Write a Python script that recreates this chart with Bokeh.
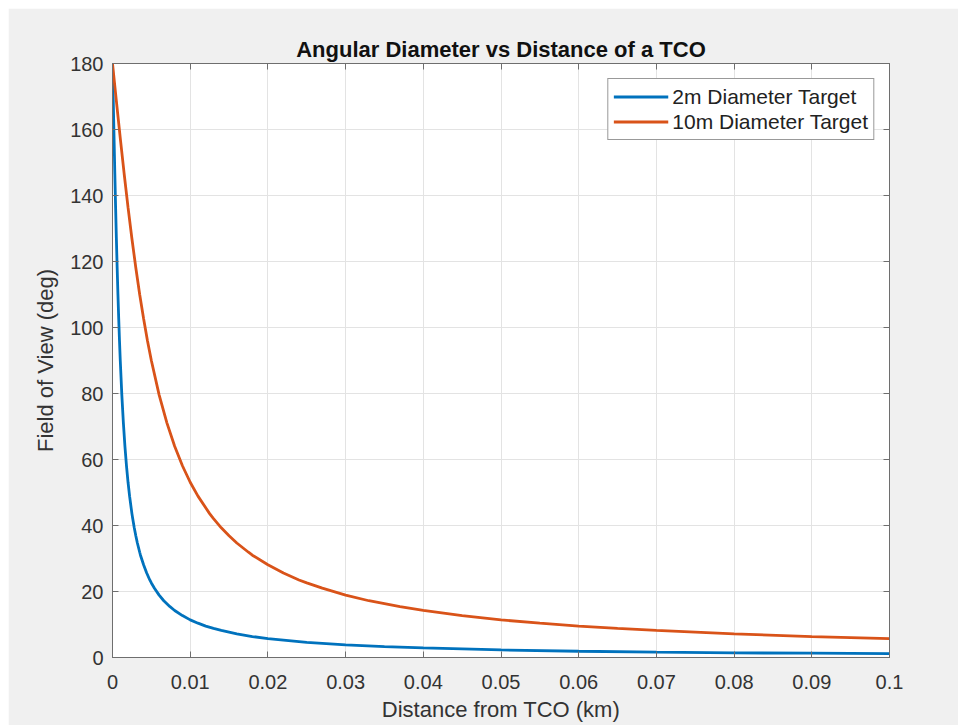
from bokeh.plotting import figure
from bokeh.models import LinearAxis, FixedTicker, Legend, LegendItem, Spacer
from bokeh.layouts import column, row
from bokeh.embed import file_html
from bokeh.resources import INLINE

# ---- data ----
dist_2m = [0, 0.00005, 0.0001, 0.00015, 0.0002, 0.0003, 0.0004, 0.0005, 0.0006, 0.0007,
           0.0008, 0.0009, 0.001, 0.0012, 0.0014, 0.0016, 0.0018, 0.002, 0.0022, 0.0025,
           0.0026, 0.0028, 0.003, 0.0032, 0.0035, 0.0036, 0.004, 0.0044, 0.0048, 0.005,
           0.0054, 0.006, 0.0066, 0.007, 0.0074, 0.008, 0.009, 0.01, 0.011, 0.012, 0.013,
           0.014, 0.016, 0.018, 0.02, 0.025, 0.03, 0.035, 0.04, 0.05, 0.06, 0.07, 0.08,
           0.09, 0.1]
fov_2m = [180, 174.3, 168.6, 163.0, 157.4, 146.6, 136.4, 126.9, 118.1, 110.0,
          102.7, 96.0, 90.0, 79.6, 71.1, 64.0, 58.1, 53.1, 48.9, 43.6,
          42.1, 39.3, 36.9, 34.7, 31.9, 31.0, 28.1, 25.6, 23.5, 22.6,
          21.0, 18.9, 17.2, 16.3, 15.4, 14.25, 12.7, 11.4, 10.4, 9.5, 8.8,
          8.2, 7.15, 6.35, 5.7, 4.6, 3.8, 3.3, 2.9, 2.3, 1.9, 1.6, 1.4,
          1.3, 1.15]

dist_10m = [0, 0.00025, 0.0005, 0.00075, 0.001, 0.0015, 0.002, 0.0025, 0.003, 0.0035,
            0.004, 0.0045, 0.005, 0.006, 0.007, 0.008, 0.009, 0.01, 0.011, 0.0125,
            0.013, 0.014, 0.015, 0.016, 0.0175, 0.018, 0.02, 0.022, 0.024, 0.025,
            0.027, 0.03, 0.033, 0.035, 0.037, 0.04, 0.045, 0.05, 0.055, 0.06, 0.065,
            0.07, 0.08, 0.09, 0.1]
fov_10m = [180, 174.3, 168.6, 163.0, 157.4, 146.6, 136.4, 126.9, 118.1, 110.0,
           102.7, 96.0, 90.0, 79.6, 71.1, 64.0, 58.1, 53.1, 48.9, 43.6,
           42.1, 39.3, 36.9, 34.7, 31.9, 31.0, 28.1, 25.6, 23.5, 22.6,
           21.0, 18.9, 17.2, 16.3, 15.4, 14.25, 12.7, 11.4, 10.4, 9.5, 8.8,
           8.2, 7.15, 6.35, 5.7]

x_ticks = [0, 0.01, 0.02, 0.03, 0.04, 0.05, 0.06, 0.07, 0.08, 0.09, 0.1]
x_tick_labels = ["0", "0.01", "0.02", "0.03", "0.04", "0.05", "0.06", "0.07", "0.08", "0.09", "0.1"]
y_ticks = [0, 20, 40, 60, 80, 100, 120, 140, 160, 180]

series_names = ["2m Diameter Target", "10m Diameter Target"]
title_text = "Angular Diameter vs Distance of a TCO"
x_label = "Distance from TCO (km)"
y_label = "Field of View (deg)"

# ---- styling ----
FONT = "Liberation Sans"
TXT = "#333333"
AX = "#6e6e6e"
BG = "#f0f0f0"

p = figure(width=950, height=717, x_range=(0, 0.1), y_range=(0, 180),
           output_backend="svg", toolbar_location=None,
           min_border_left=104, min_border_right=69, min_border_top=55, min_border_bottom=68,
           background_fill_color="white", border_fill_color=BG)

p.title.text = title_text
p.title.align = "center"
p.title.text_font = FONT
p.title.text_font_size = "22px"
p.title.text_font_style = "bold"
p.title.text_color = "#111111"
p.title.standoff = 4

p.outline_line_color = AX
p.outline_line_width = 1

for ax in (p.xaxis[0], p.yaxis[0]):
    ax.major_tick_in = 6
    ax.major_tick_out = 0
    ax.minor_tick_in = 0
    ax.minor_tick_out = 0
    ax.axis_line_color = AX
    ax.major_tick_line_color = AX
    ax.major_label_text_font = FONT
    ax.major_label_text_font_size = "20px"
    ax.major_label_text_color = TXT
    ax.axis_label_text_font = FONT
    ax.axis_label_text_font_size = "22px"
    ax.axis_label_text_font_style = "normal"
    ax.axis_label_text_color = TXT

p.xaxis.ticker = FixedTicker(ticks=x_ticks)
p.xaxis.major_label_overrides = {t: l for t, l in zip(x_ticks, x_tick_labels)}
p.xaxis.axis_label = x_label
p.xaxis.major_label_standoff = 17
p.xaxis.axis_label_standoff = 5

p.yaxis.ticker = FixedTicker(ticks=y_ticks)
p.yaxis.axis_label = y_label
p.yaxis.major_label_standoff = 9
p.yaxis.axis_label_standoff = 9

# top and right tick-only axes (box on)
top = LinearAxis(ticker=FixedTicker(ticks=x_ticks),
                 major_label_overrides={t: "" for t in x_ticks},
                 major_tick_in=6, major_tick_out=0, minor_tick_in=0, minor_tick_out=0,
                 major_label_standoff=0, axis_line_color=AX, major_tick_line_color=AX)
right = LinearAxis(ticker=FixedTicker(ticks=y_ticks),
                   major_label_overrides={t: "" for t in y_ticks},
                   major_tick_in=6, major_tick_out=0, minor_tick_in=0, minor_tick_out=0,
                   major_label_standoff=0, axis_line_color=AX, major_tick_line_color=AX)
p.add_layout(top, "above")
p.add_layout(right, "right")

p.xgrid.ticker = FixedTicker(ticks=x_ticks)
p.ygrid.ticker = FixedTicker(ticks=y_ticks)
p.grid.grid_line_color = "#e3e3e3"
p.grid.grid_line_width = 1

r1 = p.line(dist_2m, fov_2m, line_color="#0072BD", line_width=2.8)
r2 = p.line(dist_10m, fov_10m, line_color="#D95319", line_width=2.8)

legend = Legend(items=[LegendItem(label=series_names[0], renderers=[r1]),
                       LegendItem(label=series_names[1], renderers=[r2])],
                location="top_right", margin=15, padding=5, spacing=0,
                glyph_width=55, glyph_height=25, label_height=25, label_standoff=4,
                label_text_font=FONT, label_text_font_size="21px", label_text_color="#222222",
                border_line_color="#333333", border_line_width=1,
                background_fill_color="white", background_fill_alpha=1)
p.add_layout(legend)

layout = column(Spacer(height=8, width=958), row(Spacer(width=8, height=717), p))

open("out.html", "w").write(file_html(layout, INLINE))
